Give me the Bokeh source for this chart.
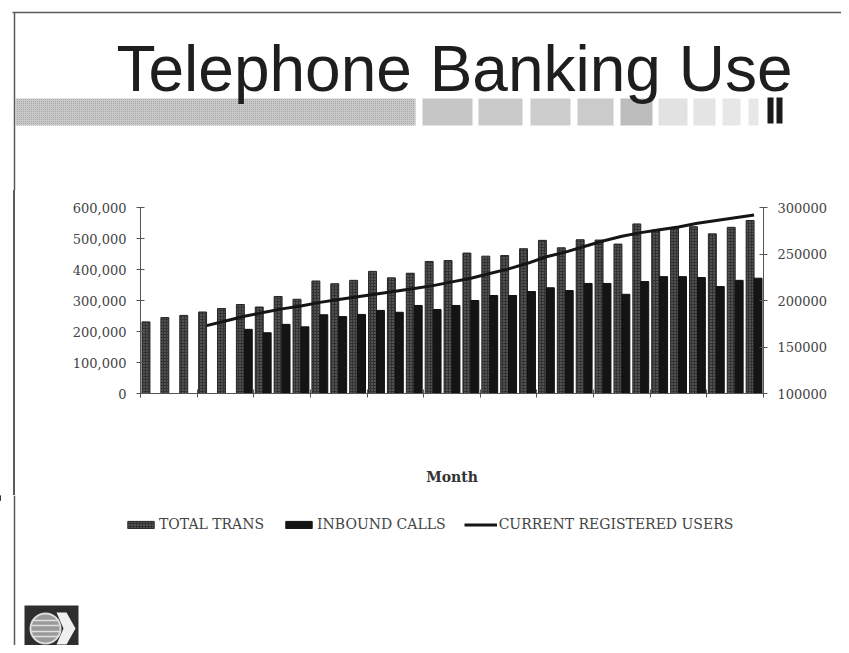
import numpy as np
from bokeh.plotting import figure
from bokeh.layouts import column, row
from bokeh.models import (ColumnDataSource, Range1d, LinearAxis, FixedTicker,
                          NumeralTickFormatter, Legend, LegendItem, Spacer)
from bokeh.transform import dodge
from bokeh.core.properties import value
from bokeh.embed import file_html
from bokeh.resources import INLINE

# ---------------- data ----------------
months = [1, 2, 3, 4, 5, 6, 7, 8, 9, 10, 11, 12, 13, 14, 15, 16, 17,
          18, 19, 20, 21, 22, 23, 24, 25, 26, 27, 28, 29, 30, 31, 32, 33]
total_trans = [231000, 245000, 252000, 263000, 274000, 287000, 279000, 313000,
               304000, 363000, 354000, 365000, 394000, 373000, 388000, 426000,
               429000, 453000, 443000, 445000, 467000, 494000, 470000, 496000,
               495000, 482000, 547000, 527000, 535000, 538000, 515000, 536000,
               558000]
inbound_calls = [None, None, None, None, None, 207000, 196000, 223000, 215000,
                 254000, 248000, 255000, 268000, 262000, 284000, 271000, 284000,
                 300000, 316000, 316000, 329000, 341000, 332000, 355000, 355000,
                 320000, 361000, 377000, 377000, 374000, 345000, 365000, 372000]
registered_users = [None, None, None, 173000, 178000, 183000, 187000, 191000,
                    194000, 198000, 201000, 204000, 207000, 210000, 213000,
                    216000, 220000, 224000, 229000, 234000, 240000, 247000,
                    252000, 258000, 264000, 269000, 273000, 276000, 279000,
                    283000, 286000, 289000, 292000]
left_ticks = [0, 100000, 200000, 300000, 400000, 500000, 600000]
right_ticks = [100000, 150000, 200000, 250000, 300000]
month_ticks = [0.5, 3.5, 6.5, 9.5, 12.5, 15.5, 18.5, 21.5, 24.5, 27.5, 30.5, 33.5]

title_text = "Telephone Banking Use"
series_names = ["TOTAL TRANS", "INBOUND CALLS", "CURRENT REGISTERED USERS"]


def nan_arr(vals):
    return np.array([np.nan if v is None else v for v in vals], dtype=float)


src = ColumnDataSource(data=dict(
    month=np.array(months, dtype=float),
    total=nan_arr(total_trans),
    inbound=nan_arr(inbound_calls),
    users=nan_arr(registered_users),
))

SERIF = "DejaVu Serif"
BORDER = "#5a5a5a"
TOTAL_STYLE = dict(fill_color="#333333", line_color="#262626", hatch_pattern="dot",
                   hatch_color="#808080", hatch_scale=3, hatch_weight=1)
INB_STYLE = dict(fill_color="#141414", line_color="#101010")
LINE_STYLE = dict(line_color="#151515", line_width=3)


def deco_fig(w, h, x0, x1, y0, y1):
    f = figure(width=w, height=h, x_range=Range1d(x0, x1), y_range=Range1d(y1, y0),
               output_backend="svg", toolbar_location=None,
               x_axis_location=None, y_axis_location=None,
               min_border=0, min_border_left=0, min_border_right=0,
               min_border_top=0, min_border_bottom=0)
    f.grid.visible = False
    f.outline_line_color = None
    f.background_fill_color = "white"
    f.border_fill_color = "white"
    return f


# ---------------- top (title + band) ----------------
top = deco_fig(841, 190, 0, 841, 0, 190)
top.segment(x0=[12], y0=[12], x1=[841], y1=[12], line_color=BORDER, line_width=1.5)
top.segment(x0=[14], y0=[12], x1=[14], y1=[190], line_color=BORDER, line_width=1.5)
top.quad(left=[15], right=[415], top=[98], bottom=[125], fill_color="#c9c9c9",
         line_color=None, hatch_pattern="dot", hatch_color="#9c9c9c", hatch_scale=2,
         hatch_weight=1)
blocks_l = [422, 478, 530, 577, 620, 658, 693, 722, 748]
blocks_r = [472, 522, 570, 613, 652, 687, 715, 740, 758]
blocks_c = ["#c6c6c6", "#cacaca", "#cdcdcd", "#cbcbcb", "#bdbdbd",
            "#e2e2e2", "#e4e4e4", "#e7e7e7", "#e7e7e7"]
top.quad(left=blocks_l, right=blocks_r, top=[98] * 9, bottom=[125] * 9,
         fill_color=blocks_c, line_color=None)
top.quad(left=[767, 776], right=[773, 782], top=[97, 97], bottom=[123, 123],
         fill_color="#1a1a1a", line_color=None)
top.text(x=[116], y=[68], text=[title_text], text_font=value("Liberation Sans"),
         text_font_size="64px", text_color="#1e1e1e", text_baseline="alphabetic",
         text_align="left")

# ---------------- chart ----------------
p = figure(width=783, height=305, x_range=Range1d(0.5, 33.5),
           y_range=Range1d(0, 600000), output_backend="svg", toolbar_location=None,
           min_border_left=82, min_border_right=78, min_border_top=17,
           min_border_bottom=102)
p.extra_y_ranges = {"users": Range1d(100000, 300000)}
p.grid.visible = False
p.outline_line_color = None
p.background_fill_color = "white"
p.border_fill_color = "white"

r_total = p.vbar(x=dodge("month", -0.21, range=p.x_range), top="total", width=0.42,
                 bottom=0, source=src, **TOTAL_STYLE)
r_in = p.vbar(x=dodge("month", 0.21, range=p.x_range), top="inbound", width=0.42,
              bottom=0, source=src, **INB_STYLE)
r_users = p.line(x="month", y="users", source=src, y_range_name="users", **LINE_STYLE)

ax_style = dict(major_label_text_font=SERIF, major_label_text_font_size="13px",
                major_label_text_color="#444444", axis_line_color="#555555",
                major_tick_line_color="#555555", major_tick_in=4, major_tick_out=4,
                minor_tick_line_color=None, major_label_standoff=10)

yl = p.yaxis[0]
yl.ticker = FixedTicker(ticks=left_ticks)
yl.formatter = NumeralTickFormatter(format="0,0")
for k, v in ax_style.items():
    setattr(yl, k, v)

yr = LinearAxis(y_range_name="users", ticker=FixedTicker(ticks=right_ticks),
                formatter=NumeralTickFormatter(format="0"), **ax_style)
p.add_layout(yr, "right")

xa = p.xaxis[0]
xa.ticker = FixedTicker(ticks=month_ticks)
for k, v in ax_style.items():
    setattr(xa, k, v)
xa.major_label_standoff = 5
xa.major_label_overrides = {t: "" for t in month_ticks}
xa.axis_label = "Month"
xa.axis_label_text_font = SERIF
xa.axis_label_text_font_style = "bold"
xa.axis_label_text_font_size = "14px"
xa.axis_label_text_color = "#333333"
xa.axis_label_standoff = 71

# left page border alongside the chart
edge = Spacer(width=2, height=305, styles={"background-color": BORDER})
middle = row(Spacer(width=13, height=305), edge, Spacer(width=43, height=305), p)

# ---------------- bottom (legend + logo) ----------------
bot = deco_fig(841, 150, 0, 841, 495, 645)
bot.segment(x0=[14], y0=[495], x1=[14], y1=[645], line_color=BORDER, line_width=1.5)
lg_total = bot.vbar(x=[-100], top=[500], width=1, **TOTAL_STYLE)
lg_in = bot.vbar(x=[-100], top=[500], width=1, **INB_STYLE)
lg_users = bot.line(x=[-100, -90], y=[500, 500], **LINE_STYLE)
legend = Legend(items=[LegendItem(label=series_names[0], renderers=[lg_total]),
                       LegendItem(label=series_names[1], renderers=[lg_in]),
                       LegendItem(label=series_names[2], renderers=[lg_users])],
                orientation="horizontal", location=(124, 113),
                label_text_font=SERIF, label_text_font_size="14px",
                label_text_color="#444444", glyph_width=33, glyph_height=9,
                label_standoff=2, spacing=18, padding=4, margin=0,
                border_line_color=None, background_fill_alpha=0)
bot.add_layout(legend, "center")

bot.quad(left=[24], right=[78], top=[605], bottom=[652], fill_color="#2e2e2e",
         line_color=None)
bot.circle(x=[45], y=[628], radius=15, fill_color="#9a9a9a", line_color="#dddddd",
           line_width=2)
bot.segment(x0=[33, 31, 31, 33], y0=[620, 625, 631, 636],
            x1=[57, 59, 59, 57], y1=[620, 625, 631, 636],
            line_color="#e0e0e0", line_width=1.5)
bot.patch(x=[56, 66, 75, 66, 56, 63], y=[612, 612, 628, 644, 644, 628],
          fill_color="#f0f0f0", line_color=None)

layout = column(top, middle, bot)
open("out.html", "w").write(file_html(layout, INLINE))
